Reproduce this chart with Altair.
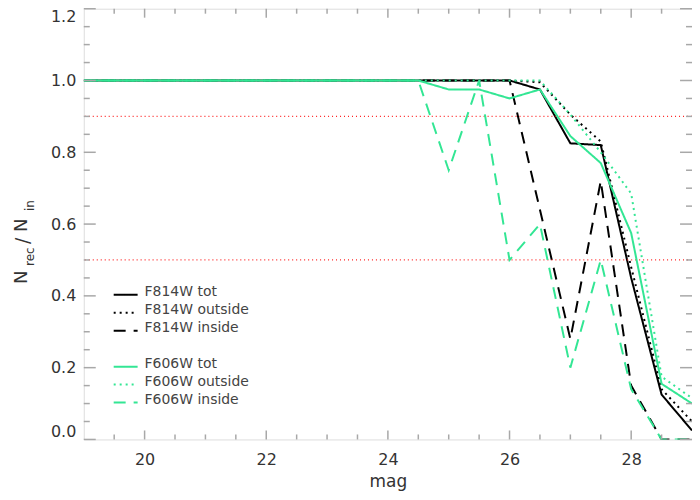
import altair as alt
import pandas as pd

# ---------------- data ----------------
mags = [19.0, 19.5, 20.0, 20.5, 21.0, 21.5, 22.0, 22.5, 23.0, 23.5, 24.0,
        24.5, 25.0, 25.5, 26.0, 26.5, 27.0, 27.5, 28.0, 28.5, 29.0]

f814w_tot = [1.0, 1.0, 1.0, 1.0, 1.0, 1.0, 1.0, 1.0, 1.0, 1.0, 1.0,
             1.0, 1.0, 1.0, 1.0, 0.975, 0.825, 0.82, 0.45, 0.125, 0.025]
f814w_out = [1.0, 1.0, 1.0, 1.0, 1.0, 1.0, 1.0, 1.0, 1.0, 1.0, 1.0,
             1.0, 1.0, 1.0, 1.0, 0.995, 0.905, 0.83, 0.48, 0.14, 0.05]
f814w_in = [1.0, 1.0, 1.0, 1.0, 1.0, 1.0, 1.0, 1.0, 1.0, 1.0, 1.0,
            1.0, 1.0, 1.0, 1.0, 0.64, 0.28, 0.72, 0.15, 0.0, 0.0]
f606w_tot = [1.0, 1.0, 1.0, 1.0, 1.0, 1.0, 1.0, 1.0, 1.0, 1.0, 1.0,
             1.0, 0.975, 0.975, 0.95, 0.975, 0.845, 0.77, 0.575, 0.155, 0.10]
f606w_out = [1.0, 1.0, 1.0, 1.0, 1.0, 1.0, 1.0, 1.0, 1.0, 1.0, 1.0,
             1.0, 1.0, 1.0, 1.0, 1.0, 0.905, 0.80, 0.685, 0.175, 0.115]
f606w_in = [1.0, 1.0, 1.0, 1.0, 1.0, 1.0, 1.0, 1.0, 1.0, 1.0, 1.0,
            1.0, 0.75, 1.0, 0.5, 0.6, 0.2, 0.5, 0.14, 0.0, 0.0]

series_names = ["F814W tot", "F814W outside", "F814W inside",
                "F606W tot", "F606W outside", "F606W inside"]
series_values = [f814w_tot, f814w_out, f814w_in, f606w_tot, f606w_out, f606w_in]

ref_levels = [0.5, 0.9]

x_major = [20, 22, 24, 26, 28]
x_minor = [19.5, 20.5, 21.0, 21.5, 22.5, 23.0, 23.5, 24.5, 25.0, 25.5,
           26.5, 27.0, 27.5, 28.5]
y_major = [0.0, 0.2, 0.4, 0.6, 0.8, 1.0, 1.2]
y_minor = [0.05, 0.1, 0.15, 0.25, 0.3, 0.35, 0.45, 0.5, 0.55, 0.65, 0.7, 0.75,
           0.85, 0.9, 0.95, 1.05, 1.1, 1.15]

# y title pieces
title_parts = ["N", "rec", "/", "N", "in"]

# ---------------- styles ----------------
BLACK = "#000000"
GREEN = "#33e694"
AXIS = "#a8a8a8"
TXT = "#333333"
FONT = "DejaVu Sans"
SOLID = [1, 0]
DOTTED = [2, 4]
DASHED = [12, 8]
series_colors = [BLACK, BLACK, BLACK, GREEN, GREEN, GREEN]
series_dashes = [SOLID, DOTTED, DASHED, SOLID, DOTTED, DASHED]

W, H = 610, 432

rows = []
for name, vals in zip(series_names, series_values):
    for m, v in zip(mags, vals):
        rows.append({"mag": m, "value": v, "series": name})
df = pd.DataFrame(rows)

x_scale = alt.Scale(domain=[19, 29], nice=False, zero=False)
y_scale = alt.Scale(domain=[0, 1.2], nice=False)

color_scale = alt.Scale(domain=series_names, range=series_colors)
dash_scale = alt.Scale(domain=series_names, range=series_dashes)

XAX = alt.Axis(values=x_major, title="mag", domain=False, ticks=False, grid=False,
               labelFont=FONT, labelFontSize=16, labelColor=TXT, labelPadding=12,
               titleFont=FONT, titleFontSize=17, titleColor=TXT, titleFontWeight="normal",
               titlePadding=6, format="d")
YAX = alt.Axis(values=y_major, title=None, domain=False, ticks=False, grid=False,
               labelFont=FONT, labelFontSize=16, labelColor=TXT, labelPadding=8,
               labelFlush=True, format=".1f")


def X(field="mag"):
    return alt.X(f"{field}:Q", scale=x_scale, axis=XAX, title="mag")


def Y(field="value"):
    return alt.Y(f"{field}:Q", scale=y_scale, axis=YAX, title=None)


def line_layer(names):
    return alt.Chart(df[df["series"].isin(names)]).mark_line(strokeWidth=2, clip=True).encode(
        x=X(), y=Y(),
        color=alt.Color("series:N", scale=color_scale, legend=None),
        strokeDash=alt.StrokeDash("series:N", scale=dash_scale, legend=None),
    )


lines814 = line_layer(series_names[:3])
lines606 = line_layer(series_names[3:])

refs = alt.Chart(pd.DataFrame({"value": ref_levels})).mark_rule(
    color="#ff2020", strokeDash=[1, 3], strokeWidth=1.2
).encode(y=Y())


def xticks(vals, length):
    d = pd.DataFrame({"mag": vals})
    bottom = alt.Chart(d).mark_rule(color=AXIS, strokeWidth=1.5).encode(
        x=X(), y=alt.value(H), y2=alt.value(H - length))
    top = alt.Chart(d).mark_rule(color=AXIS, strokeWidth=1.5).encode(
        x=X(), y=alt.value(0), y2=alt.value(length))
    return [bottom, top]


def yticks(vals, length):
    d = pd.DataFrame({"value": vals})
    left = alt.Chart(d).mark_rule(color=AXIS, strokeWidth=1.5).encode(
        y=Y(), x=alt.value(0), x2=alt.value(length))
    right = alt.Chart(d).mark_rule(color=AXIS, strokeWidth=1.5).encode(
        y=Y(), x=alt.value(W), x2=alt.value(W - length))
    return [left, right]


tick_layers = xticks(x_major, 9) + xticks(x_minor, 5) + yticks(y_major, 12) + yticks(y_minor, 6)

# ---- y-axis title N_rec / N_in built from rotated text pieces ----
title_sizes = [18, 12, 19, 18, 12]
title_x = [-57, -50, -55, -57, -50]
title_y = [276, 258, 236, 224, 203]
title_layers = []
for t, s, xx, yy in zip(title_parts, title_sizes, title_x, title_y):
    title_layers.append(
        alt.Chart(pd.DataFrame({"t": [t]})).mark_text(
            font=FONT, fontSize=s, color=TXT, align="left", baseline="alphabetic"
        ).encode(text="t:N", angle=alt.value(270), x=alt.value(xx), y=alt.value(yy))
    )

# ---- legend drawn inside the plot ----
one = pd.DataFrame({"k": [0]})
legend_y = [287, 305, 323, 359, 377, 395]
legend_layers = []
for name, col, dash, yy in zip(series_names, series_colors, series_dashes, legend_y):
    legend_layers.append(
        alt.Chart(one).mark_rule(color=col, strokeDash=dash, strokeWidth=2).encode(
            x=alt.value(30), x2=alt.value(54), y=alt.value(yy))
    )
    legend_layers.append(
        alt.Chart(pd.DataFrame({"t": [name]})).mark_text(
            font=FONT, fontSize=14, color="#444444", align="left", baseline="middle"
        ).encode(text="t:N", x=alt.value(61), y=alt.value(yy - 3))
    )

chart = alt.layer(
    lines814, refs, lines606, *tick_layers, *title_layers, *legend_layers
).properties(
    width=W, height=H,
    autosize=alt.AutoSizeParams(type="none"),
    padding={"left": 76, "top": 0, "right": 0, "bottom": 52},
).configure_view(stroke=AXIS, strokeWidth=2).configure(background="white")

chart.save("out.html", embed_options={"renderer": "svg", "actions": False})
